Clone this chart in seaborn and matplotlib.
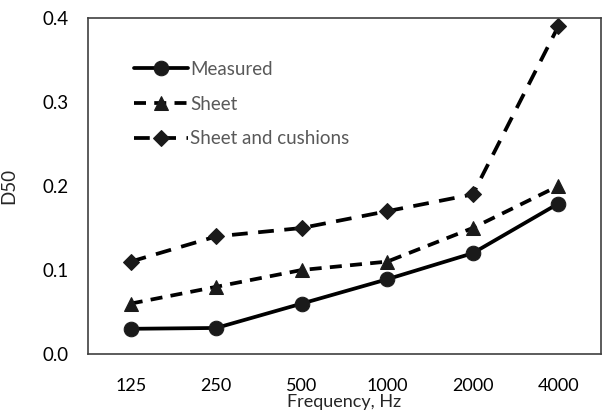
import matplotlib
matplotlib.use("Agg")
import matplotlib.pyplot as plt
import seaborn as sns
import pandas as pd

frequencies = ["125", "250", "500", "1000", "2000", "4000"]
measured = [0.030, 0.031, 0.060, 0.089, 0.120, 0.179]
sheet = [0.060, 0.080, 0.100, 0.110, 0.150, 0.200]
sheet_cushions = [0.110, 0.140, 0.150, 0.170, 0.190, 0.390]
series_names = ["Measured", "Sheet", "Sheet and cushions"]

sns.set_theme(style="white")
plt.rcParams['font.family'] = ['Lato', 'DejaVu Sans']

rows = []
for name, vals in zip(series_names, [measured, sheet, sheet_cushions]):
    for i, (f, v) in enumerate(zip(frequencies, vals)):
        rows.append({"pos": i, "freq": f, "D50": v, "series": name})
df = pd.DataFrame(rows)

fig = plt.figure(figsize=(6.02, 4.19), dpi=100)
ax = fig.add_axes([88/602, 1 - 354/419, (601-88)/602, (354-18)/419])

styles = {
    "Measured": dict(marker="o", linestyle="-", markersize=10.5),
    "Sheet": dict(marker="^", linestyle=(0, (3.2, 2.2)), markersize=10.5),
    "Sheet and cushions": dict(marker="D", linestyle=(0, (4.2, 2.8)), markersize=8.5),
}
for name in series_names:
    sub = df[df["series"] == name]
    st = styles[name]
    sns.lineplot(data=sub, x="pos", y="D50", ax=ax, color="black",
                 linewidth=2.7, marker=st["marker"], markersize=st["markersize"],
                 markeredgecolor="#1a1a1a", markerfacecolor="#1a1a1a",
                 label=name, sort=False)
    ax.lines[-1].set_linestyle(st["linestyle"])

ax.set_xlim(-0.5, 5.5)
ax.set_ylim(0, 0.4)
ax.set_xticks(range(len(frequencies)))
ax.set_xticklabels(frequencies)
ax.set_yticks([0.0, 0.1, 0.2, 0.3, 0.4])
ax.set_yticklabels(["0.0", "0.1", "0.2", "0.3", "0.4"])
ax.tick_params(axis="both", direction="in", length=6, width=1, color="#404040",
               labelsize=13.5, labelcolor="black", pad=14)
ax.tick_params(axis="x", pad=17, labelsize=13)
for s in ax.spines.values():
    s.set_color("#404040")
    s.set_linewidth(1.2)
    s.set_visible(True)

ax.set_xlabel("Frequency, Hz", fontsize=13, labelpad=0)
ax.set_ylabel("D50", fontsize=13.5, labelpad=18)

leg = ax.legend(loc="upper left", bbox_to_anchor=(0.075, 0.895), frameon=False,
                fontsize=13.5, handlelength=2.9, handletextpad=0.1,
                labelspacing=0.95, borderaxespad=0)
for t in leg.get_texts():
    t.set_color("#595959")
for h, name in zip(leg.get_lines(), series_names):
    h.set_linestyle(styles[name]["linestyle"])

fig.savefig("out.png", dpi=100)
